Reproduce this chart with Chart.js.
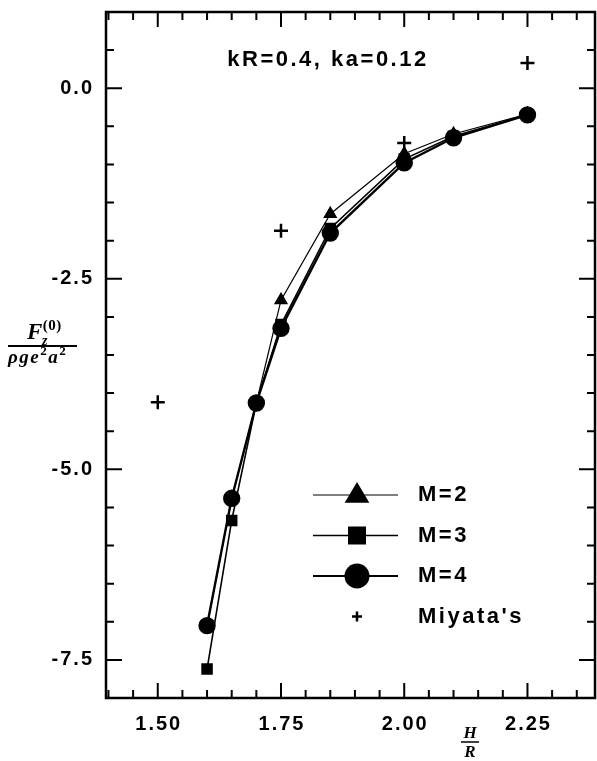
<!DOCTYPE html>
<html>
<head>
<meta charset="utf-8">
<script src="https://cdn.jsdelivr.net/npm/chart.js@4"></script>
<style>
  html, body { margin: 0; padding: 0; background: #fff; }
</style>
</head>
<body>
<canvas id="chart" width="597" height="761"></canvas>
<script>
// dados
const hr = [1.60, 1.65, 1.70, 1.75, 1.85, 2.00, 2.10, 2.25];
const m2 = [-7.05, -5.38, -4.13, -2.78, -1.65, -0.86, -0.60, -0.34];
const m3 = [-7.62, -5.67, -4.13, -3.10, -1.84, -0.93, -0.63, -0.35];
const m4 = [-7.05, -5.38, -4.13, -3.15, -1.90, -0.98, -0.65, -0.35];
const miyataX = [1.50, 1.75, 2.00, 2.25];
const miyataY = [-4.12, -1.87, -0.72, 0.33];

const xTickLabels = ['1.50', '1.75', '2.00', '2.25'];
const yTickLabels = ['0.0', '-2.5', '-5.0', '-7.5'];
const seriesNames = ['M=2', 'M=3', 'M=4', "Miyata's"];
const titleText = 'kR=0.4, ka=0.12';

function pts(xs, ys) {
    return xs.map((x, i) => ({ x: x, y: ys[i] }));
}

// desenha um marcador simples (triangulo, quadrado, circulo, cruz)
function marker(ctx, style, x, y, r) {
    ctx.beginPath();
    if (style === 'triangle') {
        ctx.moveTo(x, y - r);
        ctx.lineTo(x + r * 0.95, y + r * 0.6);
        ctx.lineTo(x - r * 0.95, y + r * 0.6);
        ctx.closePath();
        ctx.fill();
    } else if (style === 'rect') {
        ctx.rect(x - r * 0.75, y - r * 0.75, r * 1.5, r * 1.5);
        ctx.fill();
    } else if (style === 'circle') {
        ctx.arc(x, y, r, 0, Math.PI * 2);
        ctx.fill();
    } else {
        ctx.lineWidth = 2.5;
        ctx.moveTo(x - r, y); ctx.lineTo(x + r, y);
        ctx.moveTo(x, y - r); ctx.lineTo(x, y + r);
        ctx.stroke();
    }
}

// escreve pedaços de texto em sequencia: [texto, fonte, deslocamento y]
function seq(ctx, x, y, parts) {
    parts.forEach(p => {
        ctx.font = p[1];
        ctx.fillText(p[0], x, y + p[2]);
        x += ctx.measureText(p[0]).width;
    });
}

const decor = {
    id: 'decor',
    beforeDraw(chart) {
        const ctx = chart.ctx;
        ctx.save();
        ctx.fillStyle = '#fff';
        ctx.fillRect(0, 0, chart.width, chart.height);
        ctx.restore();
    },
    afterDraw(chart) {
        const { ctx, chartArea: a, scales: { x, y } } = chart;
        ctx.save();
        ctx.strokeStyle = '#000';
        ctx.fillStyle = '#000';

        // moldura
        ctx.lineWidth = 2.5;
        ctx.strokeRect(a.left, a.top, a.right - a.left, a.bottom - a.top);

        // marcas do eixo x (para dentro), a cada 0.05
        ctx.lineWidth = 2;
        for (let i = Math.ceil(x.min / 0.05 + 1e-6); i * 0.05 < x.max - 0.005; i++) {
            const v = i * 0.05;
            const len = i % 5 === 0 ? 15 : 8;
            const px = x.getPixelForValue(v);
            ctx.beginPath();
            ctx.moveTo(px, a.bottom); ctx.lineTo(px, a.bottom - len);
            ctx.moveTo(px, a.top); ctx.lineTo(px, a.top + len);
            ctx.stroke();
        }
        // marcas do eixo y, a cada 0.5
        for (let i = Math.ceil(y.min / 0.5 + 1e-6); i * 0.5 < y.max - 0.01; i++) {
            const v = i * 0.5;
            const len = i % 5 === 0 ? 16 : 8;
            const py = y.getPixelForValue(v);
            ctx.beginPath();
            ctx.moveTo(a.left, py); ctx.lineTo(a.left + len, py);
            ctx.moveTo(a.right, py); ctx.lineTo(a.right - len, py);
            ctx.stroke();
        }

        // rotulos
        ctx.font = 'bold 20px "Liberation Sans", Arial, sans-serif';
        ctx.letterSpacing = '2px';
        ctx.textBaseline = 'middle';
        ctx.textAlign = 'right';
        yTickLabels.forEach(t => {
            ctx.fillText(t, a.left - 12, y.getPixelForValue(parseFloat(t)));
        });
        ctx.textAlign = 'center';
        xTickLabels.forEach(t => {
            ctx.fillText(t, x.getPixelForValue(parseFloat(t)) + 1, a.bottom + 26);
        });

        // titulo dentro do grafico
        ctx.letterSpacing = '2.5px';
        ctx.font = 'bold 22px "Liberation Sans", Arial, sans-serif';
        ctx.fillText(titleText, 328, 60);

        // legenda
        const styles = ['triangle', 'rect', 'circle', 'cross'];
        const sizes = [13, 12, 12.5, 5];
        const widths = [1.2, 1.6, 2.2, 0];
        const lx = 313, rowY = 495, rowH = 40.5;
        ctx.letterSpacing = '2.5px';
        ctx.font = 'bold 22px "Liberation Sans", Arial, sans-serif';
        ctx.textAlign = 'left';
        seriesNames.forEach((name, i) => {
            const yy = rowY + i * rowH;
            if (widths[i] > 0) {
                ctx.lineWidth = widths[i];
                ctx.beginPath();
                ctx.moveTo(lx, yy); ctx.lineTo(lx + 85, yy);
                ctx.stroke();
            }
            marker(ctx, styles[i], lx + 44, yy, sizes[i]);
            ctx.fillText(name, lx + 105, yy);
        });

        // titulos dos eixos (fracoes)
        ctx.textAlign = 'left';
        ctx.textBaseline = 'alphabetic';
        const it = s => 'italic bold ' + s + 'px "Liberation Serif", serif';
        const rm = s => 'bold ' + s + 'px "Liberation Serif", serif';
        ctx.letterSpacing = '0.5px';
        seq(ctx, 27, 339, [['F', it(23), 0], ['(0)', rm(15), -9]]);
        ctx.font = it(14);
        ctx.fillText('z', 42, 345);
        ctx.lineWidth = 1.8;
        ctx.beginPath(); ctx.moveTo(8, 346); ctx.lineTo(77, 346); ctx.stroke();
        ctx.letterSpacing = '1.5px';
        seq(ctx, 8, 363, [['\u03c1ge', it(19), 0], ['2', rm(13), -8], ['a', it(19), 0], ['2', rm(13), -8]]);

        ctx.letterSpacing = '0px';
        ctx.textAlign = 'center';
        ctx.font = it(17);
        ctx.fillText('H', 470, 738);
        ctx.lineWidth = 1.5;
        ctx.beginPath(); ctx.moveTo(461, 742); ctx.lineTo(479, 742); ctx.stroke();
        ctx.fillText('R', 470, 757);

        ctx.restore();
    }
};

const ctx = document.getElementById('chart').getContext('2d');

const data = {
    datasets: [
        {
            label: seriesNames[0],
            data: pts(hr, m2),
            borderColor: '#000', backgroundColor: '#000',
            borderWidth: 1.2, pointStyle: 'triangle', pointRadius: 7,
            order: 3
        },
        {
            label: seriesNames[1],
            data: pts(hr, m3),
            borderColor: '#000', backgroundColor: '#000',
            borderWidth: 1.6, pointStyle: 'rect', pointRadius: 7,
            order: 2
        },
        {
            label: seriesNames[2],
            data: pts(hr, m4),
            borderColor: '#000', backgroundColor: '#000',
            borderWidth: 2.4, pointStyle: 'circle', pointRadius: 7.5,
            order: 1
        },
        {
            label: seriesNames[3],
            data: pts(miyataX, miyataY),
            borderColor: '#000', backgroundColor: '#000',
            showLine: false, pointStyle: 'cross', pointRadius: 7,
            pointBorderWidth: 2.5,
            order: 0
        }
    ]
};

const config = {
    type: 'line',
    data: data,
    options: {
        responsive: false,
        animation: false,
        layout: {
            autoPadding: false,
            padding: { left: 106, top: 12, right: 2, bottom: 63 }
        },
        elements: { line: { tension: 0 } },
        plugins: {
            legend: { display: false },
            tooltip: { enabled: false }
        },
        scales: {
            x: { type: 'linear', min: 1.395, max: 2.387, display: false },
            y: { type: 'linear', min: -8, max: 1, display: false }
        }
    },
    plugins: [decor]
};

const grafico = new Chart(ctx, config);
</script>
</body>
</html>
